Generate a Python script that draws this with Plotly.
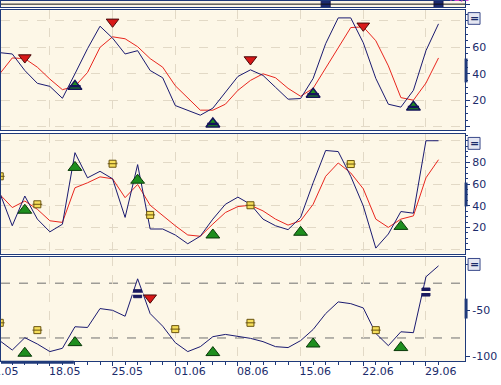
import plotly.graph_objects as go

# ---------------- data ----------------
dates = ["12.05", "13.05", "14.05", "15.05",
         "18.05", "19.05", "20.05", "21.05", "22.05",
         "25.05", "26.05", "27.05", "28.05", "29.05",
         "01.06", "02.06", "03.06", "04.06", "05.06",
         "08.06", "09.06", "10.06", "11.06", "12.06",
         "15.06", "16.06", "17.06", "18.06", "19.06",
         "22.06", "23.06", "24.06", "25.06", "26.06",
         "29.06", "30.06"]
week_ticks = ["18.05", "25.05", "01.06", "08.06", "15.06", "22.06", "29.06"]

# panel 1 : slow stochastic
stoch1_k = [56, 55, 42.5, 32.8, 30.5, 21.5, 40, 59, 76, 67, 55, 57.5, 42.5, 37, 16, 12.5, 8.7, 14, 26, 38,
            43, 38.8, 29.8, 20.8, 21.3, 36.5, 62.8, 82.3, 82.3, 63.5, 36.5, 17, 14.8, 27.5, 57.5, 77.8]
stoch1_d = [40, 52, 51.5, 45, 36, 28, 30.5, 41, 60, 68, 66.5, 60.5, 51.5, 45, 31, 22, 12.5, 12.5, 17, 27.5,
            35, 40, 37, 29, 23, 29, 44, 60, 75, 75.5, 65, 46, 22, 20, 33, 52]
# panel 2 : fast stochastic
stoch2_k = [52, 21.6, 49, 27.7, 16, 23, 89, 65.8, 71.8, 64.9, 29.3, 78, 18.6, 18.6, 13.1, 5, 12, 27.7, 41.4, 48,
            41.4, 27.7, 21.6, 18, 29.3, 61.2, 91, 90, 67.2, 39.9, 1, 14, 34.7, 33.2, 100, 100]
stoch2_d = [50.5, 38.4, 44.4, 36.8, 26.2, 24.7, 56.6, 61.2, 66.7, 64.9, 47.5, 59.7, 40.5, 30.7, 21.6, 13.1, 11.9,
            23.2, 33.8, 39.3, 40.5, 35.3, 27.7, 22.2, 26.2, 41.4, 67.2, 79.5, 70.3, 55.7, 27.7, 20.1, 27.7, 30.7,
            65.8, 82.5]
# panel 3 : Williams %R
williams_r = [-83, -93.2, -79.7, -86.6, -94.9, -91.3, -67.7, -68.5, -47.8, -49.7, -56.2, -15.2, -53.3, -67.1,
              -85.1, -94.9, -89.5, -78.6, -76.1, -77.9, -80.4, -84, -89.5, -90.5, -82.9, -70.7, -53.3, -40.5,
              -42.4, -47.1, -75, -88.4, -73.2, -74.2, -13, -1]

# signals (date, value)
p1_sell_dates = ["14.05", "25.05", "09.06", "22.06"]
p1_sell_vals = [52.3, 79.3, 50.8, 76.3]
p1_buy_dates = ["20.05", "04.06", "16.06", "26.06"]
p1_buy_vals = [30.5, 2, 24.5, 14.8]
p2_buy_dates = ["14.05", "20.05", "27.05", "04.06", "15.06", "25.06"]
p2_buy_vals = [35.9, 75.4, 63.6, 13.1, 15.6, 21]
p2_flat_dates = ["12.05", "15.05", "25.05", "28.05", "09.06", "19.06"]
p2_flat_vals = [67.2, 41.4, 78.8, 31.6, 40.5, 78.5]
p3_flat_dates = ["12.05", "15.05", "01.06", "09.06", "23.06"]
p3_flat_vals = [-63.4, -71.4, -70.3, -63.4, -71.4]
p3_buy_dates = ["14.05", "20.05", "04.06", "16.06", "25.06"]
p3_buy_vals = [-96.7, -85.1, -96, -86.6, -90.5]
p3_exit_dates = ["27.05", "29.06"]
p3_exit_vals = [-31.5, -29.7]
p3_sell_dates = ["28.05"]
p3_sell_vals = [-35.9]
top_marks_dates = ["17.06", "30.06"]

# ---------------- helpers ----------------
OFFSET = 4  # 18.05 is position 0
pos = {d: i - OFFSET for i, d in enumerate(dates)}
x_all = [pos[d] for d in dates]


def px(ds):
    return [pos[d] for d in ds]


W, H = 501, 385
NAVY = "#1F3A7A"
BLUE_LINE = "#1A1A70"
RED_LINE = "#E8261E"
TXT = "#1B2B6B"
BG = "#FDF7E7"
FONT = "DejaVu Sans"

XR = [-3.9, 33.12]
XDOM = [0, 465 / W]


def ydom(top_px, bot_px):
    return [1 - bot_px / H, 1 - top_px / H]


fig = go.Figure()

def line(xs, ys, color, xa, ya, width=1):
    fig.add_trace(go.Scatter(x=xs, y=ys, mode="lines", line=dict(color=color, width=width),
                             xaxis=xa, yaxis=ya, hoverinfo="skip", showlegend=False))

def marks(xs, ys, xa, ya, symbol, size, color, lcolor, lw=1):
    fig.add_trace(go.Scatter(x=xs, y=ys, mode="markers",
                             marker=dict(symbol=symbol, size=size, color=color,
                                         line=dict(color=lcolor, width=lw)),
                             xaxis=xa, yaxis=ya, hoverinfo="skip", showlegend=False))

def eq_yellow(xs, ys, xa, ya):
    marks(xs, ys, xa, ya, "square", 7, "#F7DF5A", "#6A5410", 1)
    marks(xs, ys, xa, ya, "line-ew", 7, "#6A5410", "#6A5410", 1)

def eq_navy(xs, ys, xa, ya):
    marks(xs, ys, xa, ya, "square", 8, "#1A1A60", "#1A1A60", 1)
    marks(xs, ys, xa, ya, "line-ew", 8, BG, BG, 2)

# panel 1 (x3/y3)
line(x_all, stoch1_d, RED_LINE, "x3", "y3")
line(x_all, stoch1_k, BLUE_LINE, "x3", "y3")
marks(px(p1_sell_dates), p1_sell_vals, "x3", "y3", "triangle-down", 11, "#D81818", "#4A0A0A")
marks(px(p1_buy_dates), p1_buy_vals, "x3", "y3", "triangle-up", 12, "#1E8E1E", "#14145A", 1.5)
marks(px(p1_buy_dates), p1_buy_vals, "x3", "y3", "line-ew", 8, "#14145A", "#14145A", 2.5)

# panel 2 (x2/y2)
line(x_all, stoch2_d, RED_LINE, "x2", "y2")
line(x_all, stoch2_k, BLUE_LINE, "x2", "y2")
marks(px(p2_buy_dates), p2_buy_vals, "x2", "y2", "triangle-up", 12, "#1E8E1E", "#0A3A0A")
eq_yellow(px(p2_flat_dates), p2_flat_vals, "x2", "y2")

# panel 3 (x/y)
line(x_all, williams_r, BLUE_LINE, "x", "y")
marks(px(p3_buy_dates), p3_buy_vals, "x", "y", "triangle-up", 12, "#1E8E1E", "#0A3A0A")
eq_yellow(px(p3_flat_dates), p3_flat_vals, "x", "y")
eq_navy(px(p3_exit_dates), p3_exit_vals, "x", "y")
marks(px(p3_sell_dates), p3_sell_vals, "x", "y", "triangle-down", 11, "#D81818", "#4A0A0A")

# top strip (x4/y4)
marks(px(top_marks_dates), [31, 31], "x4", "y4", "square", 9, "#1A2A70", "#1A1A50")

week_pos = [pos[d] for d in week_ticks]
day_pos = x_all

xcommon = dict(range=XR, domain=XDOM, showline=True, mirror=True, linecolor=NAVY, linewidth=1,
               showgrid=True, gridcolor="#E2D9C6", griddash="dash", gridwidth=1,
               tickmode="array", tickvals=week_pos, zeroline=False, fixedrange=True)

fig.update_layout(
    width=W, height=H, autosize=False,
    margin=dict(l=0, r=0, t=0, b=0),
    paper_bgcolor="#FFFFFF", plot_bgcolor=BG,
    showlegend=False,
    font=dict(family=FONT, size=11, color=TXT),
    xaxis=dict(**xcommon, anchor="y", ticktext=week_ticks, ticks="outside", ticklen=4,
               tickcolor=NAVY, ticklabelposition="outside right", ticklabelshift=-2,
               tickfont=dict(family=FONT, size=11, color=TXT),
               minor=dict(tickvals=day_pos, ticks="outside", ticklen=3, tickcolor=NAVY, showgrid=False)),
    xaxis2=dict(**xcommon, anchor="y2", showticklabels=False, ticks=""),
    xaxis3=dict(**xcommon, anchor="y3", showticklabels=False, ticks=""),
    xaxis4=dict(range=XR, domain=XDOM, anchor="y4", showticklabels=False, showgrid=False,
                showline=True, mirror=True, linecolor=NAVY, zeroline=False),
)

ycommon = dict(side="right", showline=True, mirror=True, linecolor=NAVY, linewidth=1,
               ticks="outside", ticklen=4, tickcolor=NAVY, zeroline=False,
               tickfont=dict(family=FONT, size=11, color=TXT), fixedrange=True)

fig.update_layout(
    yaxis3=dict(**ycommon, anchor="x3", domain=ydom(9.3, 130), range=[-2.5, 88.1],
                tickvals=[0, 20, 40, 60, 80], ticktext=["", "20", "40", "60", ""],
                showgrid=True, gridcolor="#E2D9C6", griddash="dash",
                minor=dict(dtick=5, ticks="outside", ticklen=2, tickcolor=NAVY, showgrid=False)),
    yaxis2=dict(**ycommon, anchor="x2", domain=ydom(134, 254.5), range=[-4, 106.25],
                tickvals=[0, 20, 40, 60, 80, 100], ticktext=["", "20", "40", "60", "80", ""],
                showgrid=True, gridcolor="#E2D9C6", griddash="dash",
                minor=dict(dtick=5, ticks="outside", ticklen=2, tickcolor=NAVY, showgrid=False)),
    yaxis=dict(**ycommon, anchor="x", domain=ydom(258.5, 363), range=[-105.4, 8.15],
               tickvals=[-100, -50, 0], ticktext=["-100", "-50", ""], showgrid=False),
    yaxis4=dict(**ycommon, anchor="x4", domain=ydom(0, 6.3), range=[27, 33],
                tickvals=[30], ticktext=["30"], showgrid=False),
)

shapes = []
# level lines in panel 3
for lv in (-20, -80):
    shapes.append(dict(type="line", xref="x domain", yref="y", x0=0, x1=1, y0=lv, y1=lv,
                       line=dict(color="#707070", width=1, dash="dash"), layer="below"))
# level line in top strip
shapes.append(dict(type="line", xref="x4 domain", yref="y4", x0=0, x1=1, y0=30, y1=30,
                   line=dict(color="#101010", width=1)))
# scroll indicators
for (y0, y1) in [(58, 82), (183, 207), (300, 320)]:
    shapes.append(dict(type="line", xref="paper", yref="paper", x0=466 / W, x1=466 / W,
                       y0=1 - y0 / H, y1=1 - y1 / H, line=dict(color=NAVY, width=3)))
shapes.append(dict(type="line", xref="paper", yref="paper", x0=0, x1=73 / W,
                   y0=1 - 364 / H, y1=1 - 364 / H, line=dict(color=NAVY, width=3)))
# "=" buttons
annotations = []
for (t, b) in [(11.7, 23.5), (137.5, 149.5), (259.5, 271.5)]:
    shapes.append(dict(type="rect", xref="paper", yref="paper", x0=468 / W, x1=480 / W,
                       y0=1 - b / H, y1=1 - t / H, fillcolor="#E4E6F2",
                       line=dict(color="#3A4A8A", width=1), layer="above"))
    annotations.append(dict(xref="paper", yref="paper", x=474 / W, y=1 - (t + b) / 2 / H,
                            text="<b>=</b>", showarrow=False, font=dict(family=FONT, size=11, color="#1A2A6A"),
                            xanchor="center", yanchor="middle"))
# partial 11.05 label
x_1105 = (pos["12.05"] - 1 - XR[0]) / (XR[1] - XR[0]) * XDOM[1]
annotations.append(dict(xref="paper", yref="paper", x=x_1105, y=1 - 365 / H, text="11.05",
                        showarrow=False, xanchor="left", yanchor="top", xshift=-2,
                        font=dict(family=FONT, size=11, color=TXT)))
# magenta value label at top strip
annotations.append(dict(xref="paper", yref="paper", x=444 / W, y=1 - 5 / H, text="41,0",
                        showarrow=False, xanchor="left", yanchor="bottom",
                        font=dict(family=FONT, size=11, color="#D040D0")))
fig.update_layout(shapes=shapes, annotations=annotations)

fig.write_html("out.html", config={"displayModeBar": False},
               post_script="document.body.style.margin='0';document.body.style.overflow='hidden';")
